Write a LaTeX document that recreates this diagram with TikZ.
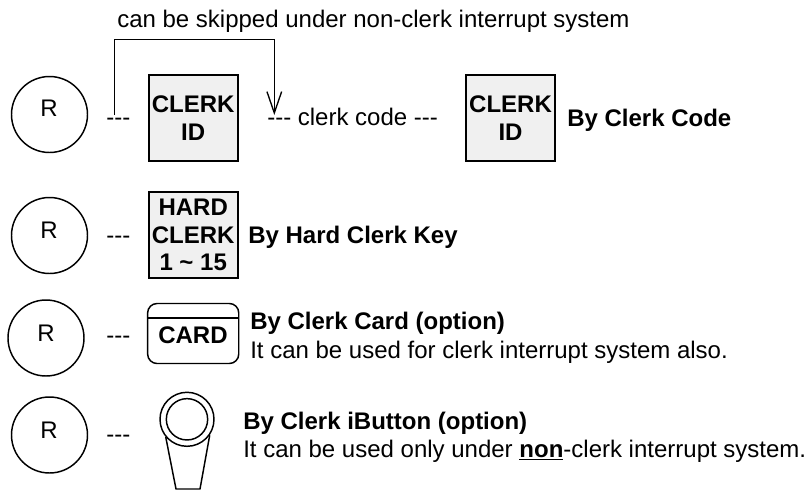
\documentclass[tikz,border=0pt]{standalone}
\usepackage{fontspec}
\setmainfont{Liberation Sans}
\usetikzlibrary{arrows.meta}
\tikzset{
  reader/.style = {draw, circle, line width=1.1pt, minimum size=57pt, inner sep=0pt},
  keybox/.style = {draw, line width=1.5pt, fill=black!6, minimum width=67pt, minimum height=65pt, inner sep=0pt, align=center, font=\fontsize{18}{20.6}\selectfont\bfseries},
  txt/.style = {anchor=base west, inner sep=0pt, font=\fontsize{18}{21}\selectfont},
  btxt/.style = {txt, font=\fontsize{18}{21}\selectfont\bfseries},
  mid/.style = {inner sep=0pt, font=\fontsize{18}{21}\selectfont}
}
\begin{document}
\begin{tikzpicture}[x=0.75pt, y=-0.75pt]
\useasboundingbox (0,0) rectangle (807,490);

\node[txt] (skiptext) at (117,27) {can be skipped under non-clerk interrupt system};

\node[reader] (r1) at (49.5,114.5) {};
\node[mid] (r1text) at (49,108) {R};
\node[txt] (dash1) at (106,125.5) {-{}-{}-};
\node[keybox] (id1) at (193.2,118) {CLERK\\ID};
\node[txt] (code) at (267,125.5) {-{}-{}- clerk code -{}-{}-};
\node[keybox] (id2) at (510.5,118) {CLERK\\ID};
\node[btxt] (bycode) at (567,126) {By Clerk Code};
\coordinate (skipfrom) at (114.3,115);
\coordinate (skipto) at (274.3,115);
\coordinate (skipa) at (114.3,39.5);
\coordinate (skipb) at (274.3,39.5);
\draw[line width=1pt, -{Straight Barb[length=16pt,width=11pt]}] (skipfrom)--(skipa)--(skipb)--(skipto);

\node[reader] (r2) at (49.5,235.5) {};
\node[mid] (r2text) at (49,230.5) {R};
\node[txt] (dash2) at (106,243.5) {-{}-{}-};
\node[keybox] (hard) at (193.2,235) {HARD\\CLERK\\1 \textasciitilde{} 15};
\node[btxt] (byhard) at (248,243) {By Hard Clerk Key};

\node[reader] (r3) at (46,338) {};
\node[mid] (r3text) at (46,333.5) {R};
\node[txt] (dash3) at (106,343) {-{}-{}-};
\node[draw, line width=1.1pt, rounded corners=7pt, minimum width=68.3pt, minimum height=45pt, inner sep=0pt] (card) at (193.2,333.5) {};
\draw[line width=1.7pt] (card.west |- 0,318.3)--(card.east |- 0,318.3);
\node[mid, font=\fontsize{18}{21}\selectfont\bfseries] (cardtext) at (193,335) {CARD};
\node[btxt] (bycard) at (250,329) {By Clerk Card (option)};
\node[txt] (cardnote) at (250,358) {It can be used for clerk interrupt system also.};

\node[reader] (r4) at (49.5,435) {};
\node[mid] (r4text) at (49,430) {R};
\node[txt] (dash4) at (106,442.5) {-{}-{}-};
\node[draw, circle, line width=1.1pt, minimum size=40.5pt, inner sep=0pt] (outer) at (187,419.3) {};
\node[draw, circle, line width=1.1pt, minimum size=31pt, inner sep=0pt] (inner) at (187,419.3) {};
\coordinate (tagl) at (176,489);
\coordinate (tagr) at (200,489);
\draw[line width=1.1pt] (outer.220)--(tagl)--(tagr)--(outer.325);
\node[btxt] (bybutton) at (243,429) {By Clerk iButton (option)};
\node[txt] (buttonnote) at (243,457) {It can be used only under \underline{\textbf{non}}-clerk interrupt system.};
\end{tikzpicture}
\end{document}
